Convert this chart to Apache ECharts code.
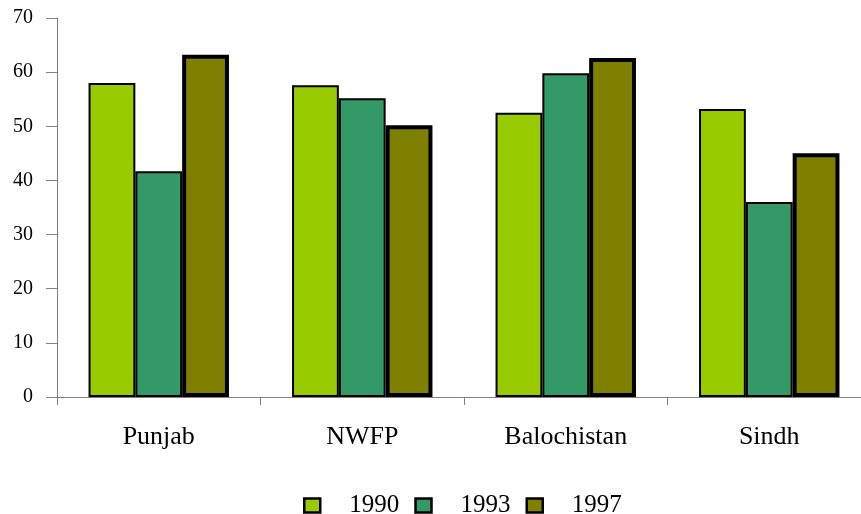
<!DOCTYPE html>
<html><head><meta charset="utf-8">
<script src="https://cdn.jsdelivr.net/npm/echarts@6/dist/echarts.min.js"></script>
<style>html,body{margin:0;padding:0;background:#fff}#c{width:861px;height:514px}</style>
</head><body><div id="c"></div>
<script>
const categories = ['Punjab', 'NWFP', 'Balochistan', 'Sindh'];
const s1990 = [58, 57.6, 52.5, 53.2];
const s1993 = [41.7, 55.2, 59.8, 36];
const s1997 = [63.2, 50.2, 62.6, 45];
const yTicks = [0, 10, 20, 30, 40, 50, 60, 70];

const chart = echarts.init(document.getElementById('c'));
const font = 'Liberation Serif, Times New Roman, serif';
chart.setOption({
  animation: false,
  grid: { left: 57, width: 814, top: 18, bottom: 117, outerBoundsMode: 'none', containLabel: false },
  legend: {
    top: 488, left: 298, itemWidth: 16, itemHeight: 14, itemGap: 15,
    icon: 'rect',
    itemStyle: { borderColor: '#000', borderWidth: 2.5 },
    textStyle: { fontFamily: font, fontSize: 25, color: '#000', padding: [0, 0, 0, 24] },
    data: ['1990', '1993', '1997']
  },
  xAxis: {
    type: 'category', data: categories,
    axisLine: { lineStyle: { color: '#808080', width: 1 } },
    axisTick: { show: true, length: 8, lineStyle: { color: '#808080' } },
    axisLabel: { fontFamily: font, fontSize: 26, color: '#000', margin: 27 }
  },
  yAxis: {
    type: 'value', min: 0, max: 70, interval: 10,
    axisLine: { show: true, lineStyle: { color: '#808080', width: 1 } },
    axisTick: { show: true, length: 11, lineStyle: { color: '#808080' } },
    splitLine: { show: false },
    axisLabel: { fontFamily: font, fontSize: 20, color: '#000', margin: 24 }
  },
  series: [
    { name: '1990', type: 'bar', data: s1990, barGap: '0%', barCategoryGap: '31%',
      itemStyle: { color: '#99cc00', borderColor: '#000', borderWidth: 2 } },
    { name: '1993', type: 'bar', data: s1993,
      itemStyle: { color: '#339966', borderColor: '#000', borderWidth: 2 } },
    { name: '1997', type: 'bar', data: s1997,
      itemStyle: { color: '#808000', borderColor: '#000', borderWidth: 4 } }
  ]
});
</script></body></html>
